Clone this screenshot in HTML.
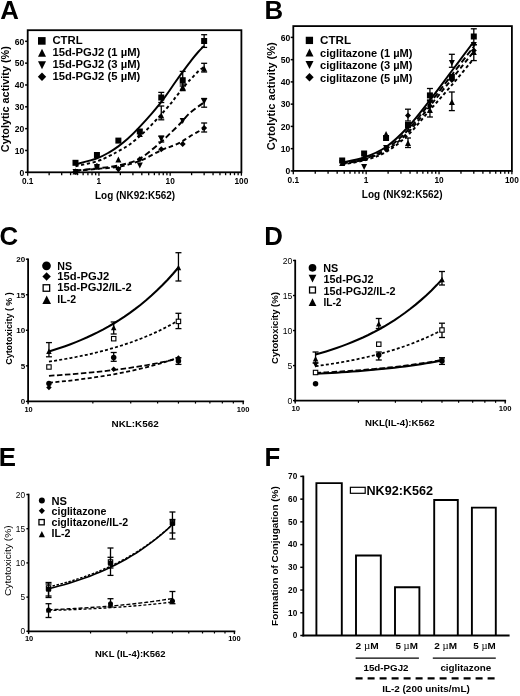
<!DOCTYPE html>
<html><head><meta charset="utf-8"><style>
html,body{margin:0;padding:0;background:#fff;}
svg{display:block;filter:grayscale(1);}
text{font-family:"Liberation Sans", sans-serif;fill:#000;}
</style></head><body>
<svg width="520" height="696" viewBox="0 0 520 696">
<rect width="520" height="696" fill="#fff"/>
<rect x="27.7" y="30.2" width="213.7" height="142.1" fill="none" stroke="#000" stroke-width="1.8"/>
<line x1="25.1" y1="172.3" x2="27.7" y2="172.3" stroke="#000" stroke-width="1.5"/>
<text transform="translate(24.3,175.5) scale(1,1.08)" x="0" y="0" font-size="8.6" font-weight="bold" text-anchor="end">0</text>
<line x1="25.1" y1="150.47" x2="27.7" y2="150.47" stroke="#000" stroke-width="1.5"/>
<text transform="translate(24.3,153.67) scale(1,1.08)" x="0" y="0" font-size="8.6" font-weight="bold" text-anchor="end">10</text>
<line x1="25.1" y1="128.64" x2="27.7" y2="128.64" stroke="#000" stroke-width="1.5"/>
<text transform="translate(24.3,131.84) scale(1,1.08)" x="0" y="0" font-size="8.6" font-weight="bold" text-anchor="end">20</text>
<line x1="25.1" y1="106.81" x2="27.7" y2="106.81" stroke="#000" stroke-width="1.5"/>
<text transform="translate(24.3,110.01) scale(1,1.08)" x="0" y="0" font-size="8.6" font-weight="bold" text-anchor="end">30</text>
<line x1="25.1" y1="84.98" x2="27.7" y2="84.98" stroke="#000" stroke-width="1.5"/>
<text transform="translate(24.3,88.18) scale(1,1.08)" x="0" y="0" font-size="8.6" font-weight="bold" text-anchor="end">40</text>
<line x1="25.1" y1="63.15" x2="27.7" y2="63.15" stroke="#000" stroke-width="1.5"/>
<text transform="translate(24.3,66.35) scale(1,1.08)" x="0" y="0" font-size="8.6" font-weight="bold" text-anchor="end">50</text>
<line x1="25.1" y1="41.32" x2="27.7" y2="41.32" stroke="#000" stroke-width="1.5"/>
<text transform="translate(24.3,44.52) scale(1,1.08)" x="0" y="0" font-size="8.6" font-weight="bold" text-anchor="end">60</text>
<line x1="27.7" y1="172.3" x2="27.7" y2="175.7" stroke="#000" stroke-width="1.3"/>
<line x1="49.14" y1="172.3" x2="49.14" y2="175.2" stroke="#000" stroke-width="1.3"/>
<line x1="61.69" y1="172.3" x2="61.69" y2="175.2" stroke="#000" stroke-width="1.3"/>
<line x1="70.59" y1="172.3" x2="70.59" y2="175.2" stroke="#000" stroke-width="1.3"/>
<line x1="77.49" y1="172.3" x2="77.49" y2="175.2" stroke="#000" stroke-width="1.3"/>
<line x1="83.13" y1="172.3" x2="83.13" y2="175.2" stroke="#000" stroke-width="1.3"/>
<line x1="87.9" y1="172.3" x2="87.9" y2="175.2" stroke="#000" stroke-width="1.3"/>
<line x1="92.03" y1="172.3" x2="92.03" y2="175.2" stroke="#000" stroke-width="1.3"/>
<line x1="95.67" y1="172.3" x2="95.67" y2="175.2" stroke="#000" stroke-width="1.3"/>
<line x1="98.93" y1="172.3" x2="98.93" y2="175.7" stroke="#000" stroke-width="1.3"/>
<line x1="120.38" y1="172.3" x2="120.38" y2="175.2" stroke="#000" stroke-width="1.3"/>
<line x1="132.92" y1="172.3" x2="132.92" y2="175.2" stroke="#000" stroke-width="1.3"/>
<line x1="141.82" y1="172.3" x2="141.82" y2="175.2" stroke="#000" stroke-width="1.3"/>
<line x1="148.72" y1="172.3" x2="148.72" y2="175.2" stroke="#000" stroke-width="1.3"/>
<line x1="154.36" y1="172.3" x2="154.36" y2="175.2" stroke="#000" stroke-width="1.3"/>
<line x1="159.13" y1="172.3" x2="159.13" y2="175.2" stroke="#000" stroke-width="1.3"/>
<line x1="163.26" y1="172.3" x2="163.26" y2="175.2" stroke="#000" stroke-width="1.3"/>
<line x1="166.91" y1="172.3" x2="166.91" y2="175.2" stroke="#000" stroke-width="1.3"/>
<line x1="170.17" y1="172.3" x2="170.17" y2="175.7" stroke="#000" stroke-width="1.3"/>
<line x1="191.61" y1="172.3" x2="191.61" y2="175.2" stroke="#000" stroke-width="1.3"/>
<line x1="204.15" y1="172.3" x2="204.15" y2="175.2" stroke="#000" stroke-width="1.3"/>
<line x1="213.05" y1="172.3" x2="213.05" y2="175.2" stroke="#000" stroke-width="1.3"/>
<line x1="219.96" y1="172.3" x2="219.96" y2="175.2" stroke="#000" stroke-width="1.3"/>
<line x1="225.6" y1="172.3" x2="225.6" y2="175.2" stroke="#000" stroke-width="1.3"/>
<line x1="230.37" y1="172.3" x2="230.37" y2="175.2" stroke="#000" stroke-width="1.3"/>
<line x1="234.5" y1="172.3" x2="234.5" y2="175.2" stroke="#000" stroke-width="1.3"/>
<line x1="238.14" y1="172.3" x2="238.14" y2="175.2" stroke="#000" stroke-width="1.3"/>
<line x1="241.4" y1="172.3" x2="241.4" y2="175.7" stroke="#000" stroke-width="1.3"/>
<text transform="translate(27.7,183.6) scale(1,1.12)" x="0" y="0" font-size="8.3" font-weight="bold" text-anchor="middle">0.1</text>
<text transform="translate(98.93,183.6) scale(1,1.12)" x="0" y="0" font-size="8.3" font-weight="bold" text-anchor="middle">1</text>
<text transform="translate(170.17,183.6) scale(1,1.12)" x="0" y="0" font-size="8.3" font-weight="bold" text-anchor="middle">10</text>
<text transform="translate(241.4,183.6) scale(1,1.12)" x="0" y="0" font-size="8.3" font-weight="bold" text-anchor="middle">100</text>
<path d="M75.5,164.3 C79.08,163.32 91.25,160.47 97,158.4 C102.75,156.33 106.5,153.87 110,151.9 C113.5,149.93 115.05,148.78 118,146.6 C120.95,144.42 124.28,141.88 127.7,138.8 C131.12,135.72 134.47,132.35 138.5,128.1 C142.53,123.85 147.8,118.05 151.9,113.3 C156,108.55 159.22,104.77 163.1,99.6 C166.98,94.43 171.82,87.08 175.2,82.3 C178.58,77.52 180.68,74.6 183.4,70.9 C186.12,67.2 189.03,63.25 191.5,60.1 C193.97,56.95 196.13,54.35 198.2,52 C200.27,49.65 202.95,47 203.9,46" fill="none" stroke="#000" stroke-width="1.95"/>
<path d="M75.5,166.3 C79.08,165.47 91.25,163.08 97,161.3 C102.75,159.52 106.5,157.25 110,155.6 C113.5,153.95 114.67,153.3 118,151.4 C121.33,149.5 125.58,147.45 130,144.2 C134.42,140.95 139.73,136.38 144.5,131.9 C149.27,127.42 154.27,121.98 158.6,117.3 C162.93,112.62 167.55,107.27 170.5,103.8 C173.45,100.33 173.65,99.83 176.3,96.5 C178.95,93.17 183.82,86.85 186.4,83.8 C188.98,80.75 189.77,80.33 191.8,78.2 C193.83,76.07 196.58,72.87 198.6,71 C200.62,69.13 203.02,67.67 203.9,67" fill="none" stroke="#000" stroke-width="1.95" stroke-dasharray="3.2,2.6"/>
<path d="M75.5,170.6 C79.08,170.22 89.92,169.15 97,168.3 C104.08,167.45 110.87,167.12 118,165.5 C125.13,163.88 132.48,162.65 139.8,158.6 C147.12,154.55 156.87,145.38 161.9,141.2 C166.93,137.02 166.98,136.4 170,133.5 C173.02,130.6 176.67,127.25 180,123.8 C183.33,120.35 186.02,116.35 190,112.8 C193.98,109.25 201.58,104.22 203.9,102.5" fill="none" stroke="#000" stroke-width="1.95" stroke-dasharray="6,3"/>
<path d="M75.5,170.9 C79.08,170.55 89.92,169.48 97,168.8 C104.08,168.12 110.87,168.12 118,166.8 C125.13,165.48 132.48,163.73 139.8,160.9 C147.12,158.07 156.87,152.13 161.9,149.8 C166.93,147.47 166.98,148.1 170,146.9 C173.02,145.7 176.67,144.37 180,142.6 C183.33,140.83 186.02,138.65 190,136.3 C193.98,133.95 201.58,129.8 203.9,128.5" fill="none" stroke="#000" stroke-width="1.95" stroke-dasharray="4.5,3"/>
<rect x="72.49" y="159.8" width="6" height="6" fill="#000"/>
<rect x="93.94" y="152" width="6" height="6" fill="#000"/>
<rect x="115.38" y="137.6" width="6" height="6" fill="#000"/>
<rect x="136.82" y="128.5" width="6" height="6" fill="#000"/>
<line x1="161.27" y1="92.4" x2="161.27" y2="102.5" stroke="#000" stroke-width="1.3"/>
<line x1="158.27" y1="92.4" x2="164.27" y2="92.4" stroke="#000" stroke-width="1.3"/>
<line x1="158.27" y1="102.5" x2="164.27" y2="102.5" stroke="#000" stroke-width="1.3"/>
<rect x="158.27" y="94.5" width="6" height="6" fill="#000"/>
<line x1="182.71" y1="71.4" x2="182.71" y2="86" stroke="#000" stroke-width="1.3"/>
<line x1="179.71" y1="71.4" x2="185.71" y2="71.4" stroke="#000" stroke-width="1.3"/>
<line x1="179.71" y1="86" x2="185.71" y2="86" stroke="#000" stroke-width="1.3"/>
<rect x="179.71" y="77.2" width="6" height="6" fill="#000"/>
<line x1="204.15" y1="34.7" x2="204.15" y2="47.4" stroke="#000" stroke-width="1.3"/>
<line x1="201.15" y1="34.7" x2="207.15" y2="34.7" stroke="#000" stroke-width="1.3"/>
<line x1="201.15" y1="47.4" x2="207.15" y2="47.4" stroke="#000" stroke-width="1.3"/>
<rect x="201.15" y="38" width="6" height="6" fill="#000"/>
<polygon points="75.49,168.5 78.49,174.5 72.49,174.5" fill="#000"/>
<polygon points="96.94,163.5 99.94,169.5 93.94,169.5" fill="#000"/>
<polygon points="118.38,156.6 121.38,162.6 115.38,162.6" fill="#000"/>
<polygon points="139.82,131 142.82,137 136.82,137" fill="#000"/>
<line x1="161.27" y1="106" x2="161.27" y2="119.8" stroke="#000" stroke-width="1.3"/>
<line x1="158.27" y1="106" x2="164.27" y2="106" stroke="#000" stroke-width="1.3"/>
<line x1="158.27" y1="119.8" x2="164.27" y2="119.8" stroke="#000" stroke-width="1.3"/>
<polygon points="161.27,112.5 164.27,118.5 158.27,118.5" fill="#000"/>
<line x1="182.71" y1="84" x2="182.71" y2="90.6" stroke="#000" stroke-width="1.3"/>
<line x1="179.71" y1="84" x2="185.71" y2="84" stroke="#000" stroke-width="1.3"/>
<line x1="179.71" y1="90.6" x2="185.71" y2="90.6" stroke="#000" stroke-width="1.3"/>
<polygon points="182.71,83.9 185.71,89.9 179.71,89.9" fill="#000"/>
<line x1="204.15" y1="63.3" x2="204.15" y2="72" stroke="#000" stroke-width="1.3"/>
<line x1="201.15" y1="63.3" x2="207.15" y2="63.3" stroke="#000" stroke-width="1.3"/>
<line x1="201.15" y1="72" x2="207.15" y2="72" stroke="#000" stroke-width="1.3"/>
<polygon points="204.15,65.5 207.15,71.5 201.15,71.5" fill="#000"/>
<polygon points="72.49,169 78.49,169 75.49,175" fill="#000"/>
<polygon points="93.94,164 99.94,164 96.94,170" fill="#000"/>
<polygon points="115.38,167 121.38,167 118.38,173" fill="#000"/>
<polygon points="136.82,162.4 142.82,162.4 139.82,168.4" fill="#000"/>
<line x1="161.27" y1="136" x2="161.27" y2="142" stroke="#000" stroke-width="1.3"/>
<line x1="158.27" y1="136" x2="164.27" y2="136" stroke="#000" stroke-width="1.3"/>
<line x1="158.27" y1="142" x2="164.27" y2="142" stroke="#000" stroke-width="1.3"/>
<polygon points="158.27,136 164.27,136 161.27,142" fill="#000"/>
<polygon points="179.71,118 185.71,118 182.71,124" fill="#000"/>
<line x1="204.15" y1="98.5" x2="204.15" y2="107.2" stroke="#000" stroke-width="1.3"/>
<line x1="201.15" y1="98.5" x2="207.15" y2="98.5" stroke="#000" stroke-width="1.3"/>
<line x1="201.15" y1="107.2" x2="207.15" y2="107.2" stroke="#000" stroke-width="1.3"/>
<polygon points="201.15,98.5 207.15,98.5 204.15,104.5" fill="#000"/>
<polygon points="75.49,168.5 78.49,171.5 75.49,174.5 72.49,171.5" fill="#000"/>
<polygon points="96.94,163 99.94,166 96.94,169 93.94,166" fill="#000"/>
<polygon points="118.38,166 121.38,169 118.38,172 115.38,169" fill="#000"/>
<polygon points="139.82,156.3 142.82,159.3 139.82,162.3 136.82,159.3" fill="#000"/>
<polygon points="161.27,146.2 164.27,149.2 161.27,152.2 158.27,149.2" fill="#000"/>
<polygon points="182.71,141 185.71,144 182.71,147 179.71,144" fill="#000"/>
<line x1="204.15" y1="123" x2="204.15" y2="132" stroke="#000" stroke-width="1.3"/>
<line x1="201.15" y1="123" x2="207.15" y2="123" stroke="#000" stroke-width="1.3"/>
<line x1="201.15" y1="132" x2="207.15" y2="132" stroke="#000" stroke-width="1.3"/>
<polygon points="204.15,125 207.15,128 204.15,131 201.15,128" fill="#000"/>
<rect x="38" y="37.1" width="7.6" height="7.6" fill="#000"/>
<polygon points="42,48.7 46,56.7 38,56.7" fill="#000"/>
<polygon points="38,61.2 46,61.2 42,69.2" fill="#000"/>
<polygon points="42,72.55 46.2,76.75 42,80.95 37.8,76.75" fill="#000"/>
<text x="52.4" y="44.3" font-size="11.3" font-weight="bold" text-anchor="start" textLength="30.2" lengthAdjust="spacingAndGlyphs">CTRL</text>
<text x="52.4" y="56.3" font-size="11.3" font-weight="bold" text-anchor="start" textLength="87.9" lengthAdjust="spacingAndGlyphs">15d-PGJ2 (1 µM)</text>
<text x="52.4" y="68.3" font-size="11.3" font-weight="bold" text-anchor="start" textLength="87.9" lengthAdjust="spacingAndGlyphs">15d-PGJ2 (3 µM)</text>
<text x="52.4" y="80.3" font-size="11.3" font-weight="bold" text-anchor="start" textLength="87.9" lengthAdjust="spacingAndGlyphs">15d-PGJ2 (5 µM)</text>
<text x="95" y="199" font-size="10" font-weight="bold" text-anchor="start" textLength="80.2" lengthAdjust="spacingAndGlyphs">Log (NK92:K562)</text>
<text transform="translate(8.9,152.2) rotate(-90)" x="0" y="0" font-size="11.3" font-weight="bold" text-anchor="start" textLength="106" lengthAdjust="spacingAndGlyphs">Cytolytic activity (%)</text>
<text x="0.3" y="19.3" font-size="25.8" font-weight="bold" text-anchor="start">A</text>
<rect x="293.3" y="26.1" width="218.6" height="144.8" fill="none" stroke="#000" stroke-width="1.8"/>
<line x1="290.7" y1="170.9" x2="293.3" y2="170.9" stroke="#000" stroke-width="1.5"/>
<text transform="translate(290.2,174.1) scale(1,1.08)" x="0" y="0" font-size="8.6" font-weight="bold" text-anchor="end">0</text>
<line x1="290.7" y1="148.65" x2="293.3" y2="148.65" stroke="#000" stroke-width="1.5"/>
<text transform="translate(290.2,151.85) scale(1,1.08)" x="0" y="0" font-size="8.6" font-weight="bold" text-anchor="end">10</text>
<line x1="290.7" y1="126.4" x2="293.3" y2="126.4" stroke="#000" stroke-width="1.5"/>
<text transform="translate(290.2,129.6) scale(1,1.08)" x="0" y="0" font-size="8.6" font-weight="bold" text-anchor="end">20</text>
<line x1="290.7" y1="104.15" x2="293.3" y2="104.15" stroke="#000" stroke-width="1.5"/>
<text transform="translate(290.2,107.35) scale(1,1.08)" x="0" y="0" font-size="8.6" font-weight="bold" text-anchor="end">30</text>
<line x1="290.7" y1="81.9" x2="293.3" y2="81.9" stroke="#000" stroke-width="1.5"/>
<text transform="translate(290.2,85.1) scale(1,1.08)" x="0" y="0" font-size="8.6" font-weight="bold" text-anchor="end">40</text>
<line x1="290.7" y1="59.65" x2="293.3" y2="59.65" stroke="#000" stroke-width="1.5"/>
<text transform="translate(290.2,62.85) scale(1,1.08)" x="0" y="0" font-size="8.6" font-weight="bold" text-anchor="end">50</text>
<line x1="290.7" y1="37.4" x2="293.3" y2="37.4" stroke="#000" stroke-width="1.5"/>
<text transform="translate(290.2,40.6) scale(1,1.08)" x="0" y="0" font-size="8.6" font-weight="bold" text-anchor="end">60</text>
<line x1="293.3" y1="170.9" x2="293.3" y2="174.3" stroke="#000" stroke-width="1.3"/>
<line x1="315.24" y1="170.9" x2="315.24" y2="173.8" stroke="#000" stroke-width="1.3"/>
<line x1="328.07" y1="170.9" x2="328.07" y2="173.8" stroke="#000" stroke-width="1.3"/>
<line x1="337.17" y1="170.9" x2="337.17" y2="173.8" stroke="#000" stroke-width="1.3"/>
<line x1="344.23" y1="170.9" x2="344.23" y2="173.8" stroke="#000" stroke-width="1.3"/>
<line x1="350" y1="170.9" x2="350" y2="173.8" stroke="#000" stroke-width="1.3"/>
<line x1="354.88" y1="170.9" x2="354.88" y2="173.8" stroke="#000" stroke-width="1.3"/>
<line x1="359.11" y1="170.9" x2="359.11" y2="173.8" stroke="#000" stroke-width="1.3"/>
<line x1="362.83" y1="170.9" x2="362.83" y2="173.8" stroke="#000" stroke-width="1.3"/>
<line x1="366.17" y1="170.9" x2="366.17" y2="174.3" stroke="#000" stroke-width="1.3"/>
<line x1="388.1" y1="170.9" x2="388.1" y2="173.8" stroke="#000" stroke-width="1.3"/>
<line x1="400.93" y1="170.9" x2="400.93" y2="173.8" stroke="#000" stroke-width="1.3"/>
<line x1="410.04" y1="170.9" x2="410.04" y2="173.8" stroke="#000" stroke-width="1.3"/>
<line x1="417.1" y1="170.9" x2="417.1" y2="173.8" stroke="#000" stroke-width="1.3"/>
<line x1="422.87" y1="170.9" x2="422.87" y2="173.8" stroke="#000" stroke-width="1.3"/>
<line x1="427.75" y1="170.9" x2="427.75" y2="173.8" stroke="#000" stroke-width="1.3"/>
<line x1="431.97" y1="170.9" x2="431.97" y2="173.8" stroke="#000" stroke-width="1.3"/>
<line x1="435.7" y1="170.9" x2="435.7" y2="173.8" stroke="#000" stroke-width="1.3"/>
<line x1="439.03" y1="170.9" x2="439.03" y2="174.3" stroke="#000" stroke-width="1.3"/>
<line x1="460.97" y1="170.9" x2="460.97" y2="173.8" stroke="#000" stroke-width="1.3"/>
<line x1="473.8" y1="170.9" x2="473.8" y2="173.8" stroke="#000" stroke-width="1.3"/>
<line x1="482.9" y1="170.9" x2="482.9" y2="173.8" stroke="#000" stroke-width="1.3"/>
<line x1="489.96" y1="170.9" x2="489.96" y2="173.8" stroke="#000" stroke-width="1.3"/>
<line x1="495.73" y1="170.9" x2="495.73" y2="173.8" stroke="#000" stroke-width="1.3"/>
<line x1="500.61" y1="170.9" x2="500.61" y2="173.8" stroke="#000" stroke-width="1.3"/>
<line x1="504.84" y1="170.9" x2="504.84" y2="173.8" stroke="#000" stroke-width="1.3"/>
<line x1="508.57" y1="170.9" x2="508.57" y2="173.8" stroke="#000" stroke-width="1.3"/>
<line x1="511.9" y1="170.9" x2="511.9" y2="174.3" stroke="#000" stroke-width="1.3"/>
<text transform="translate(293.3,182.9) scale(1,1.12)" x="0" y="0" font-size="8.3" font-weight="bold" text-anchor="middle">0.1</text>
<text transform="translate(366.17,182.9) scale(1,1.12)" x="0" y="0" font-size="8.3" font-weight="bold" text-anchor="middle">1</text>
<text transform="translate(439.03,182.9) scale(1,1.12)" x="0" y="0" font-size="8.3" font-weight="bold" text-anchor="middle">10</text>
<text transform="translate(511.9,182.9) scale(1,1.12)" x="0" y="0" font-size="8.3" font-weight="bold" text-anchor="middle">100</text>
<path d="M342,162.5 C345.67,161.67 356.67,160.08 364,157.5 C371.33,154.92 378.67,152.08 386,147 C393.33,141.92 400.67,134.83 408,127 C415.33,119.17 422.83,109.17 430,100 C437.17,90.83 443.75,81.67 451,72 C458.25,62.33 469.75,47 473.5,42" fill="none" stroke="#000" stroke-width="1.95"/>
<path d="M342,164.5 C345.67,163.83 356.67,162.58 364,160.5 C371.33,158.42 378.67,156.25 386,152 C393.33,147.75 400.67,142 408,135 C415.33,128 422.83,118.17 430,110 C437.17,101.83 443.75,94.5 451,86 C458.25,77.5 469.75,63.5 473.5,59" fill="none" stroke="#000" stroke-width="1.95" stroke-dasharray="3.2,2.6"/>
<path d="M342,163.5 C345.67,162.75 356.67,161.42 364,159 C371.33,156.58 378.67,153.83 386,149 C393.33,144.17 400.67,137.67 408,130 C415.33,122.33 422.83,112 430,103 C437.17,94 443.75,85.33 451,76 C458.25,66.67 469.75,51.83 473.5,47" fill="none" stroke="#000" stroke-width="1.95" stroke-dasharray="6,3"/>
<path d="M342,164 C345.67,163.25 356.67,161.75 364,159.5 C371.33,157.25 378.67,155 386,150.5 C393.33,146 400.67,139.92 408,132.5 C415.33,125.08 422.83,114.75 430,106 C437.17,97.25 443.75,89 451,80 C458.25,71 469.75,56.67 473.5,52" fill="none" stroke="#000" stroke-width="1.95" stroke-dasharray="4.5,3"/>
<rect x="339.19" y="157.5" width="6" height="6" fill="#000"/>
<rect x="361.12" y="150.5" width="6" height="6" fill="#000"/>
<rect x="383.06" y="135" width="6" height="6" fill="#000"/>
<rect x="404.99" y="122" width="6" height="6" fill="#000"/>
<line x1="429.93" y1="88.5" x2="429.93" y2="101" stroke="#000" stroke-width="1.3"/>
<line x1="426.93" y1="88.5" x2="432.93" y2="88.5" stroke="#000" stroke-width="1.3"/>
<line x1="426.93" y1="101" x2="432.93" y2="101" stroke="#000" stroke-width="1.3"/>
<rect x="426.93" y="92.4" width="6" height="6" fill="#000"/>
<rect x="448.86" y="74" width="6" height="6" fill="#000"/>
<line x1="473.8" y1="28.8" x2="473.8" y2="44.7" stroke="#000" stroke-width="1.3"/>
<line x1="470.8" y1="28.8" x2="476.8" y2="28.8" stroke="#000" stroke-width="1.3"/>
<line x1="470.8" y1="44.7" x2="476.8" y2="44.7" stroke="#000" stroke-width="1.3"/>
<rect x="470.8" y="33.5" width="6" height="6" fill="#000"/>
<polygon points="342.19,160 345.19,166 339.19,166" fill="#000"/>
<polygon points="364.12,155 367.12,161 361.12,161" fill="#000"/>
<polygon points="386.06,131 389.06,137 383.06,137" fill="#000"/>
<line x1="407.99" y1="138" x2="407.99" y2="147.5" stroke="#000" stroke-width="1.3"/>
<line x1="404.99" y1="138" x2="410.99" y2="138" stroke="#000" stroke-width="1.3"/>
<line x1="404.99" y1="147.5" x2="410.99" y2="147.5" stroke="#000" stroke-width="1.3"/>
<polygon points="407.99,140 410.99,146 404.99,146" fill="#000"/>
<polygon points="429.93,107 432.93,113 426.93,113" fill="#000"/>
<line x1="451.86" y1="92" x2="451.86" y2="110.6" stroke="#000" stroke-width="1.3"/>
<line x1="448.86" y1="92" x2="454.86" y2="92" stroke="#000" stroke-width="1.3"/>
<line x1="448.86" y1="110.6" x2="454.86" y2="110.6" stroke="#000" stroke-width="1.3"/>
<polygon points="451.86,99 454.86,105 448.86,105" fill="#000"/>
<line x1="473.8" y1="44.7" x2="473.8" y2="60.6" stroke="#000" stroke-width="1.3"/>
<line x1="470.8" y1="44.7" x2="476.8" y2="44.7" stroke="#000" stroke-width="1.3"/>
<line x1="470.8" y1="60.6" x2="476.8" y2="60.6" stroke="#000" stroke-width="1.3"/>
<polygon points="473.8,49 476.8,55 470.8,55" fill="#000"/>
<polygon points="339.19,160 345.19,160 342.19,166" fill="#000"/>
<polygon points="361.12,164 367.12,164 364.12,170" fill="#000"/>
<polygon points="383.06,145 389.06,145 386.06,151" fill="#000"/>
<polygon points="404.99,124 410.99,124 407.99,130" fill="#000"/>
<polygon points="426.93,100 432.93,100 429.93,106" fill="#000"/>
<line x1="451.86" y1="54.3" x2="451.86" y2="67.3" stroke="#000" stroke-width="1.3"/>
<line x1="448.86" y1="54.3" x2="454.86" y2="54.3" stroke="#000" stroke-width="1.3"/>
<line x1="448.86" y1="67.3" x2="454.86" y2="67.3" stroke="#000" stroke-width="1.3"/>
<polygon points="448.86,60 454.86,60 451.86,66" fill="#000"/>
<polygon points="470.8,42 476.8,42 473.8,48" fill="#000"/>
<polygon points="342.19,159 345.19,162 342.19,165 339.19,162" fill="#000"/>
<polygon points="364.12,155 367.12,158 364.12,161 361.12,158" fill="#000"/>
<polygon points="386.06,146 389.06,149 386.06,152 383.06,149" fill="#000"/>
<line x1="407.99" y1="109.2" x2="407.99" y2="121" stroke="#000" stroke-width="1.3"/>
<line x1="404.99" y1="109.2" x2="410.99" y2="109.2" stroke="#000" stroke-width="1.3"/>
<line x1="404.99" y1="121" x2="410.99" y2="121" stroke="#000" stroke-width="1.3"/>
<polygon points="407.99,112.4 410.99,115.4 407.99,118.4 404.99,115.4" fill="#000"/>
<line x1="429.93" y1="100" x2="429.93" y2="117" stroke="#000" stroke-width="1.3"/>
<line x1="426.93" y1="100" x2="432.93" y2="100" stroke="#000" stroke-width="1.3"/>
<line x1="426.93" y1="117" x2="432.93" y2="117" stroke="#000" stroke-width="1.3"/>
<polygon points="429.93,103 432.93,106 429.93,109 426.93,106" fill="#000"/>
<polygon points="451.86,77 454.86,80 451.86,83 448.86,80" fill="#000"/>
<polygon points="473.8,47.5 476.8,50.5 473.8,53.5 470.8,50.5" fill="#000"/>
<rect x="305.75" y="36.75" width="7.3" height="7.3" fill="#000"/>
<polygon points="309.5,48.4 313.5,56.4 305.5,56.4" fill="#000"/>
<polygon points="305.5,60.9 313.5,60.9 309.5,68.9" fill="#000"/>
<polygon points="309.5,73 313.7,77.2 309.5,81.4 305.3,77.2" fill="#000"/>
<text x="320" y="44.3" font-size="11.3" font-weight="bold" text-anchor="start" textLength="31" lengthAdjust="spacingAndGlyphs">CTRL</text>
<text x="320" y="56.6" font-size="11.3" font-weight="bold" text-anchor="start" textLength="92.5" lengthAdjust="spacingAndGlyphs">ciglitazone (1 µM)</text>
<text x="320" y="69" font-size="11.3" font-weight="bold" text-anchor="start" textLength="92.5" lengthAdjust="spacingAndGlyphs">ciglitazone (3 µM)</text>
<text x="320" y="81.5" font-size="11.3" font-weight="bold" text-anchor="start" textLength="92.5" lengthAdjust="spacingAndGlyphs">ciglitazone (5 µM)</text>
<text x="361.8" y="197.5" font-size="10" font-weight="bold" text-anchor="start" textLength="80.7" lengthAdjust="spacingAndGlyphs">Log (NK92:K562)</text>
<text transform="translate(275,150.2) rotate(-90)" x="0" y="0" font-size="11.3" font-weight="bold" text-anchor="start" textLength="108" lengthAdjust="spacingAndGlyphs">Cytolytic activity (%)</text>
<text x="264.6" y="19.2" font-size="25.8" font-weight="bold" text-anchor="start">B</text>
<line x1="28.1" y1="258.4" x2="28.1" y2="402.3" stroke="#000" stroke-width="1.8"/>
<line x1="27.2" y1="401.4" x2="244.1" y2="401.4" stroke="#000" stroke-width="1.8"/>
<line x1="25.9" y1="401.4" x2="28.1" y2="401.4" stroke="#000" stroke-width="1.4"/>
<text x="25.2" y="404.3" font-size="8" font-weight="bold" text-anchor="end">0</text>
<line x1="25.9" y1="365.85" x2="28.1" y2="365.85" stroke="#000" stroke-width="1.4"/>
<text x="25.2" y="368.75" font-size="8" font-weight="bold" text-anchor="end">5</text>
<line x1="25.9" y1="330.3" x2="28.1" y2="330.3" stroke="#000" stroke-width="1.4"/>
<text x="25.2" y="333.2" font-size="8" font-weight="bold" text-anchor="end">10</text>
<line x1="25.9" y1="294.75" x2="28.1" y2="294.75" stroke="#000" stroke-width="1.4"/>
<text x="25.2" y="297.65" font-size="8" font-weight="bold" text-anchor="end">15</text>
<line x1="25.9" y1="259.2" x2="28.1" y2="259.2" stroke="#000" stroke-width="1.4"/>
<text x="25.2" y="262.1" font-size="8" font-weight="bold" text-anchor="end">20</text>
<line x1="92.85" y1="401.4" x2="92.85" y2="403.6" stroke="#000" stroke-width="1.2"/>
<line x1="130.73" y1="401.4" x2="130.73" y2="403.6" stroke="#000" stroke-width="1.2"/>
<line x1="157.6" y1="401.4" x2="157.6" y2="403.6" stroke="#000" stroke-width="1.2"/>
<line x1="178.45" y1="401.4" x2="178.45" y2="403.6" stroke="#000" stroke-width="1.2"/>
<line x1="195.48" y1="401.4" x2="195.48" y2="403.6" stroke="#000" stroke-width="1.2"/>
<line x1="209.88" y1="401.4" x2="209.88" y2="403.6" stroke="#000" stroke-width="1.2"/>
<line x1="222.35" y1="401.4" x2="222.35" y2="403.6" stroke="#000" stroke-width="1.2"/>
<line x1="233.36" y1="401.4" x2="233.36" y2="403.6" stroke="#000" stroke-width="1.2"/>
<line x1="28.1" y1="401.4" x2="28.1" y2="404.2" stroke="#000" stroke-width="1.4"/>
<line x1="243.2" y1="401.4" x2="243.2" y2="404.2" stroke="#000" stroke-width="1.4"/>
<text x="28.6" y="411.7" font-size="7.4" font-weight="bold" text-anchor="middle">10</text>
<text x="243.2" y="411.7" font-size="7.6" font-weight="bold" text-anchor="middle">100</text>
<path d="M48.95,351.5 L54.34,349.84 L59.74,348.07 L65.13,346.2 L70.53,344.22 L75.93,342.12 L81.32,339.9 L86.72,337.55 L92.11,335.05 L97.51,332.41 L102.9,329.61 L108.3,326.64 L113.7,323.5 L119.09,320.17 L124.49,316.64 L129.88,312.9 L135.28,308.94 L140.68,304.75 L146.07,300.3 L151.47,295.59 L156.86,290.61 L162.26,285.32 L167.66,279.72 L173.05,273.79 L178.45,267.5" fill="none" stroke="#000" stroke-width="2.1"/>
<path d="M48.95,361.6 L54.34,360.79 L59.74,359.92 L65.13,359.01 L70.53,358.04 L75.93,357.01 L81.32,355.93 L86.72,354.77 L92.11,353.55 L97.51,352.26 L102.9,350.89 L108.3,349.44 L113.7,347.9 L119.09,346.27 L124.49,344.54 L129.88,342.72 L135.28,340.78 L140.68,338.73 L146.07,336.55 L151.47,334.25 L156.86,331.81 L162.26,329.22 L167.66,326.48 L173.05,323.58 L178.45,320.5" fill="none" stroke="#000" stroke-width="1.75" stroke-dasharray="3,2.2"/>
<path d="M48.95,375.8 L54.34,375.46 L59.74,375.09 L65.13,374.71 L70.53,374.3 L75.93,373.87 L81.32,373.41 L86.72,372.93 L92.11,372.41 L97.51,371.87 L102.9,371.29 L108.3,370.68 L113.7,370.03 L119.09,369.35 L124.49,368.62 L129.88,367.85 L135.28,367.04 L140.68,366.17 L146.07,365.26 L151.47,364.29 L156.86,363.26 L162.26,362.17 L167.66,361.02 L173.05,359.79 L178.45,358.5" fill="none" stroke="#000" stroke-width="1.75" stroke-dasharray="5.5,2.5"/>
<path d="M48.95,382.7 L54.34,382.2 L59.74,381.67 L65.13,381.11 L70.53,380.52 L75.93,379.89 L81.32,379.22 L86.72,378.51 L92.11,377.77 L97.51,376.97 L102.9,376.13 L108.3,375.24 L113.7,374.3 L119.09,373.3 L124.49,372.24 L129.88,371.12 L135.28,369.93 L140.68,368.67 L146.07,367.34 L151.47,365.93 L156.86,364.43 L162.26,362.85 L167.66,361.17 L173.05,359.39 L178.45,357.5" fill="none" stroke="#000" stroke-width="1.75" stroke-dasharray="4,2.5"/>
<line x1="48.95" y1="342.6" x2="48.95" y2="356.8" stroke="#000" stroke-width="1.3"/>
<line x1="45.95" y1="342.6" x2="51.95" y2="342.6" stroke="#000" stroke-width="1.3"/>
<line x1="45.95" y1="356.8" x2="51.95" y2="356.8" stroke="#000" stroke-width="1.3"/>
<polygon points="48.95,348.55 51.7,354.05 46.2,354.05" fill="#000"/>
<line x1="113.7" y1="322" x2="113.7" y2="334" stroke="#000" stroke-width="1.3"/>
<line x1="110.7" y1="322" x2="116.7" y2="322" stroke="#000" stroke-width="1.3"/>
<line x1="110.7" y1="334" x2="116.7" y2="334" stroke="#000" stroke-width="1.3"/>
<polygon points="113.7,324.75 116.45,330.25 110.95,330.25" fill="#000"/>
<line x1="178.45" y1="252.7" x2="178.45" y2="281" stroke="#000" stroke-width="1.3"/>
<line x1="175.45" y1="252.7" x2="181.45" y2="252.7" stroke="#000" stroke-width="1.3"/>
<line x1="175.45" y1="281" x2="181.45" y2="281" stroke="#000" stroke-width="1.3"/>
<polygon points="178.45,264.75 181.2,270.25 175.7,270.25" fill="#000"/>
<rect x="46.75" y="364.8" width="4.4" height="4.4" fill="#fff" stroke="#000" stroke-width="1.1"/>
<rect x="111.5" y="336.5" width="4.4" height="4.4" fill="#fff" stroke="#000" stroke-width="1.1"/>
<line x1="178.45" y1="313.3" x2="178.45" y2="328.6" stroke="#000" stroke-width="1.3"/>
<line x1="175.45" y1="313.3" x2="181.45" y2="313.3" stroke="#000" stroke-width="1.3"/>
<line x1="175.45" y1="328.6" x2="181.45" y2="328.6" stroke="#000" stroke-width="1.3"/>
<rect x="176.25" y="319.2" width="4.4" height="4.4" fill="#fff" stroke="#000" stroke-width="1.1"/>
<circle cx="48.95" cy="383.5" r="2.75" fill="#000"/>
<line x1="113.7" y1="352.5" x2="113.7" y2="361.3" stroke="#000" stroke-width="1.3"/>
<line x1="110.7" y1="352.5" x2="116.7" y2="352.5" stroke="#000" stroke-width="1.3"/>
<line x1="110.7" y1="361.3" x2="116.7" y2="361.3" stroke="#000" stroke-width="1.3"/>
<circle cx="113.7" cy="357.5" r="2.75" fill="#000"/>
<line x1="178.45" y1="357.7" x2="178.45" y2="364.4" stroke="#000" stroke-width="1.3"/>
<line x1="175.45" y1="357.7" x2="181.45" y2="357.7" stroke="#000" stroke-width="1.3"/>
<line x1="175.45" y1="364.4" x2="181.45" y2="364.4" stroke="#000" stroke-width="1.3"/>
<circle cx="178.45" cy="361" r="2.75" fill="#000"/>
<polygon points="48.95,384.75 51.7,387.5 48.95,390.25 46.2,387.5" fill="#000"/>
<polygon points="113.7,366.55 116.45,369.3 113.7,372.05 110.95,369.3" fill="#000"/>
<polygon points="178.45,355.25 181.2,358 178.45,360.75 175.7,358" fill="#000"/>
<circle cx="46.5" cy="265.8" r="4.35" fill="#000"/>
<polygon points="46.6,272.3 50.8,276.5 46.6,280.7 42.4,276.5" fill="#000"/>
<rect x="43.15" y="284.75" width="6.5" height="6.5" fill="#fff" stroke="#000" stroke-width="1.3"/>
<polygon points="46.7,295.5 51,304.1 42.4,304.1" fill="#000"/>
<text x="57.3" y="269.6" font-size="11.2" font-weight="bold" text-anchor="start" textLength="14.8" lengthAdjust="spacingAndGlyphs">NS</text>
<text x="57.3" y="280" font-size="11.2" font-weight="bold" text-anchor="start" textLength="51.9" lengthAdjust="spacingAndGlyphs">15d-PGJ2</text>
<text x="57.3" y="291.4" font-size="11.2" font-weight="bold" text-anchor="start" textLength="74.4" lengthAdjust="spacingAndGlyphs">15d-PGJ2/IL-2</text>
<text x="57.3" y="303" font-size="11.2" font-weight="bold" text-anchor="start" textLength="18.7" lengthAdjust="spacingAndGlyphs">IL-2</text>
<text x="111.5" y="426.5" font-size="9.8" font-weight="bold" text-anchor="start" textLength="47.2" lengthAdjust="spacingAndGlyphs">NKL:K562</text>
<text transform="translate(12.2,364.8) rotate(-90)" x="0" y="0" font-size="9.2" font-weight="bold" text-anchor="start" textLength="72.6" lengthAdjust="spacingAndGlyphs">Cytotoxicity ( % )</text>
<text x="-0.6" y="245" font-size="25.8" font-weight="bold" text-anchor="start">C</text>
<line x1="295.2" y1="259.7" x2="295.2" y2="401.5" stroke="#000" stroke-width="1.8"/>
<line x1="294.3" y1="400.6" x2="506.1" y2="400.6" stroke="#000" stroke-width="1.8"/>
<line x1="293" y1="400.6" x2="295.2" y2="400.6" stroke="#000" stroke-width="1.4"/>
<text x="292.3" y="403.7" font-size="8.6" font-weight="normal" text-anchor="end">0</text>
<line x1="293" y1="365.58" x2="295.2" y2="365.58" stroke="#000" stroke-width="1.4"/>
<text x="292.3" y="368.68" font-size="8.6" font-weight="normal" text-anchor="end">5</text>
<line x1="293" y1="330.55" x2="295.2" y2="330.55" stroke="#000" stroke-width="1.4"/>
<text x="292.3" y="333.65" font-size="8.6" font-weight="normal" text-anchor="end">10</text>
<line x1="293" y1="295.52" x2="295.2" y2="295.52" stroke="#000" stroke-width="1.4"/>
<text x="292.3" y="298.62" font-size="8.6" font-weight="normal" text-anchor="end">15</text>
<line x1="293" y1="260.5" x2="295.2" y2="260.5" stroke="#000" stroke-width="1.4"/>
<text x="292.3" y="263.6" font-size="8.6" font-weight="normal" text-anchor="end">20</text>
<line x1="358.42" y1="400.6" x2="358.42" y2="402.8" stroke="#000" stroke-width="1.2"/>
<line x1="395.4" y1="400.6" x2="395.4" y2="402.8" stroke="#000" stroke-width="1.2"/>
<line x1="421.63" y1="400.6" x2="421.63" y2="402.8" stroke="#000" stroke-width="1.2"/>
<line x1="441.98" y1="400.6" x2="441.98" y2="402.8" stroke="#000" stroke-width="1.2"/>
<line x1="458.61" y1="400.6" x2="458.61" y2="402.8" stroke="#000" stroke-width="1.2"/>
<line x1="472.67" y1="400.6" x2="472.67" y2="402.8" stroke="#000" stroke-width="1.2"/>
<line x1="484.85" y1="400.6" x2="484.85" y2="402.8" stroke="#000" stroke-width="1.2"/>
<line x1="495.59" y1="400.6" x2="495.59" y2="402.8" stroke="#000" stroke-width="1.2"/>
<line x1="295.2" y1="400.6" x2="295.2" y2="403.4" stroke="#000" stroke-width="1.4"/>
<line x1="505.2" y1="400.6" x2="505.2" y2="403.4" stroke="#000" stroke-width="1.4"/>
<text x="295.7" y="411.2" font-size="7.7" font-weight="bold" text-anchor="middle">10</text>
<text x="505.2" y="411.2" font-size="7.7" font-weight="bold" text-anchor="middle">100</text>
<path d="M315.55,354.5 L320.82,353.01 L326.09,351.44 L331.36,349.77 L336.62,348 L341.89,346.13 L347.16,344.14 L352.43,342.04 L357.7,339.81 L362.96,337.46 L368.23,334.96 L373.5,332.31 L378.77,329.5 L384.04,326.53 L389.3,323.38 L394.57,320.04 L399.84,316.5 L405.11,312.76 L410.38,308.79 L415.64,304.58 L420.91,300.13 L426.18,295.41 L431.45,290.41 L436.72,285.11 L441.98,279.5" fill="none" stroke="#000" stroke-width="2.1"/>
<path d="M315.55,366.2 L320.82,365.48 L326.09,364.72 L331.36,363.92 L336.62,363.06 L341.89,362.16 L347.16,361.2 L352.43,360.19 L357.7,359.11 L362.96,357.97 L368.23,356.77 L373.5,355.49 L378.77,354.13 L384.04,352.7 L389.3,351.18 L394.57,349.57 L399.84,347.86 L405.11,346.05 L410.38,344.14 L415.64,342.11 L420.91,339.96 L426.18,337.68 L431.45,335.27 L436.72,332.71 L441.98,330" fill="none" stroke="#000" stroke-width="1.75" stroke-dasharray="3,2.2"/>
<path d="M315.55,373.8 L320.82,373.54 L326.09,373.26 L331.36,372.96 L336.62,372.65 L341.89,372.32 L347.16,371.96 L352.43,371.59 L357.7,371.2 L362.96,370.78 L368.23,370.33 L373.5,369.86 L378.77,369.37 L384.04,368.84 L389.3,368.28 L394.57,367.69 L399.84,367.06 L405.11,366.4 L410.38,365.69 L415.64,364.95 L420.91,364.16 L426.18,363.32 L431.45,362.43 L436.72,361.5 L441.98,360.5" fill="none" stroke="#000" stroke-width="2"/>
<path d="M315.55,373 L320.82,372.74 L326.09,372.47 L331.36,372.18 L336.62,371.87 L341.89,371.55 L347.16,371.21 L352.43,370.84 L357.7,370.45 L362.96,370.05 L368.23,369.61 L373.5,369.15 L378.77,368.67 L384.04,368.15 L389.3,367.61 L394.57,367.03 L399.84,366.41 L405.11,365.76 L410.38,365.08 L415.64,364.35 L420.91,363.58 L426.18,362.76 L431.45,361.89 L436.72,360.97 L441.98,360" fill="none" stroke="#000" stroke-width="2" stroke-dasharray="5.5,2.5"/>
<line x1="315.55" y1="352" x2="315.55" y2="363" stroke="#000" stroke-width="1.3"/>
<line x1="312.55" y1="352" x2="318.55" y2="352" stroke="#000" stroke-width="1.3"/>
<line x1="312.55" y1="363" x2="318.55" y2="363" stroke="#000" stroke-width="1.3"/>
<polygon points="315.55,355.95 318.3,361.45 312.8,361.45" fill="#000"/>
<line x1="378.77" y1="318.5" x2="378.77" y2="328.5" stroke="#000" stroke-width="1.3"/>
<line x1="375.77" y1="318.5" x2="381.77" y2="318.5" stroke="#000" stroke-width="1.3"/>
<line x1="375.77" y1="328.5" x2="381.77" y2="328.5" stroke="#000" stroke-width="1.3"/>
<polygon points="378.77,320.95 381.52,326.45 376.02,326.45" fill="#000"/>
<line x1="441.98" y1="271.5" x2="441.98" y2="285" stroke="#000" stroke-width="1.3"/>
<line x1="438.98" y1="271.5" x2="444.98" y2="271.5" stroke="#000" stroke-width="1.3"/>
<line x1="438.98" y1="285" x2="444.98" y2="285" stroke="#000" stroke-width="1.3"/>
<polygon points="441.98,276.85 444.73,282.35 439.23,282.35" fill="#000"/>
<rect x="313.35" y="370.3" width="4.4" height="4.4" fill="#fff" stroke="#000" stroke-width="1.1"/>
<rect x="376.57" y="342" width="4.4" height="4.4" fill="#fff" stroke="#000" stroke-width="1.1"/>
<line x1="441.98" y1="323.2" x2="441.98" y2="337.5" stroke="#000" stroke-width="1.3"/>
<line x1="438.98" y1="323.2" x2="444.98" y2="323.2" stroke="#000" stroke-width="1.3"/>
<line x1="438.98" y1="337.5" x2="444.98" y2="337.5" stroke="#000" stroke-width="1.3"/>
<rect x="439.78" y="327.8" width="4.4" height="4.4" fill="#fff" stroke="#000" stroke-width="1.1"/>
<polygon points="312.8,362.25 318.3,362.25 315.55,367.75" fill="#000"/>
<line x1="378.77" y1="352" x2="378.77" y2="360" stroke="#000" stroke-width="1.3"/>
<line x1="375.77" y1="352" x2="381.77" y2="352" stroke="#000" stroke-width="1.3"/>
<line x1="375.77" y1="360" x2="381.77" y2="360" stroke="#000" stroke-width="1.3"/>
<polygon points="376.02,353.65 381.52,353.65 378.77,359.15" fill="#000"/>
<polygon points="439.23,358.25 444.73,358.25 441.98,363.75" fill="#000"/>
<circle cx="315.55" cy="383.7" r="2.75" fill="#000"/>
<circle cx="378.77" cy="355" r="2.75" fill="#000"/>
<line x1="441.98" y1="357.7" x2="441.98" y2="364.4" stroke="#000" stroke-width="1.3"/>
<line x1="438.98" y1="357.7" x2="444.98" y2="357.7" stroke="#000" stroke-width="1.3"/>
<line x1="438.98" y1="364.4" x2="444.98" y2="364.4" stroke="#000" stroke-width="1.3"/>
<circle cx="441.98" cy="361" r="2.75" fill="#000"/>
<circle cx="312.5" cy="267.8" r="3.85" fill="#000"/>
<polygon points="308.6,274.7 316.4,274.7 312.5,282.5" fill="#000"/>
<rect x="309.55" y="287.05" width="5.9" height="5.9" fill="#fff" stroke="#000" stroke-width="1.3"/>
<polygon points="312.5,298.3 316.4,306.1 308.6,306.1" fill="#000"/>
<text x="323.3" y="271.5" font-size="10.8" font-weight="bold" text-anchor="start" textLength="15" lengthAdjust="spacingAndGlyphs">NS</text>
<text x="323.5" y="283.3" font-size="10.8" font-weight="bold" text-anchor="start" textLength="50" lengthAdjust="spacingAndGlyphs">15d-PGJ2</text>
<text x="323.5" y="294.5" font-size="10.8" font-weight="bold" text-anchor="start" textLength="72.1" lengthAdjust="spacingAndGlyphs">15d-PGJ2/IL-2</text>
<text x="323.5" y="305.7" font-size="10.8" font-weight="bold" text-anchor="start" textLength="18" lengthAdjust="spacingAndGlyphs">IL-2</text>
<text x="365" y="425.6" font-size="9.8" font-weight="bold" text-anchor="start" textLength="69.6" lengthAdjust="spacingAndGlyphs">NKL(IL-4):K562</text>
<text transform="translate(278.3,363.9) rotate(-90)" x="0" y="0" font-size="9.2" font-weight="bold" text-anchor="start" textLength="71.8" lengthAdjust="spacingAndGlyphs">Cytotoxicity (%)</text>
<text x="264.3" y="244.8" font-size="25.8" font-weight="bold" text-anchor="start">D</text>
<line x1="28.6" y1="493.7" x2="28.6" y2="632.2" stroke="#000" stroke-width="1.8"/>
<line x1="27.7" y1="631.3" x2="235.3" y2="631.3" stroke="#000" stroke-width="1.8"/>
<line x1="26.4" y1="631.3" x2="28.6" y2="631.3" stroke="#000" stroke-width="1.4"/>
<text x="25" y="634.4" font-size="8.3" font-weight="normal" text-anchor="end">0</text>
<line x1="26.4" y1="597.1" x2="28.6" y2="597.1" stroke="#000" stroke-width="1.4"/>
<text x="25" y="600.2" font-size="8.3" font-weight="normal" text-anchor="end">5</text>
<line x1="26.4" y1="562.9" x2="28.6" y2="562.9" stroke="#000" stroke-width="1.4"/>
<text x="25" y="566" font-size="8.3" font-weight="normal" text-anchor="end">10</text>
<line x1="26.4" y1="528.7" x2="28.6" y2="528.7" stroke="#000" stroke-width="1.4"/>
<text x="25" y="531.8" font-size="8.3" font-weight="normal" text-anchor="end">15</text>
<line x1="26.4" y1="494.5" x2="28.6" y2="494.5" stroke="#000" stroke-width="1.4"/>
<text x="25" y="497.6" font-size="8.3" font-weight="normal" text-anchor="end">20</text>
<line x1="90.55" y1="631.3" x2="90.55" y2="633.5" stroke="#000" stroke-width="1.2"/>
<line x1="126.79" y1="631.3" x2="126.79" y2="633.5" stroke="#000" stroke-width="1.2"/>
<line x1="152.5" y1="631.3" x2="152.5" y2="633.5" stroke="#000" stroke-width="1.2"/>
<line x1="172.45" y1="631.3" x2="172.45" y2="633.5" stroke="#000" stroke-width="1.2"/>
<line x1="188.74" y1="631.3" x2="188.74" y2="633.5" stroke="#000" stroke-width="1.2"/>
<line x1="202.52" y1="631.3" x2="202.52" y2="633.5" stroke="#000" stroke-width="1.2"/>
<line x1="214.46" y1="631.3" x2="214.46" y2="633.5" stroke="#000" stroke-width="1.2"/>
<line x1="224.98" y1="631.3" x2="224.98" y2="633.5" stroke="#000" stroke-width="1.2"/>
<line x1="28.6" y1="631.3" x2="28.6" y2="634.1" stroke="#000" stroke-width="1.4"/>
<line x1="234.4" y1="631.3" x2="234.4" y2="634.1" stroke="#000" stroke-width="1.4"/>
<text x="29.1" y="640.9" font-size="7.5" font-weight="bold" text-anchor="middle">10</text>
<text x="234.4" y="640.9" font-size="7.5" font-weight="bold" text-anchor="middle">100</text>
<path d="M48.54,588.7 L53.71,587.43 L58.87,586.08 L64.03,584.65 L69.19,583.14 L74.36,581.53 L79.52,579.84 L84.68,578.04 L89.85,576.13 L95.01,574.11 L100.17,571.97 L105.33,569.7 L110.5,567.3 L115.66,564.75 L120.82,562.06 L125.98,559.2 L131.15,556.18 L136.31,552.97 L141.47,549.57 L146.63,545.97 L151.8,542.16 L156.96,538.12 L162.12,533.84 L167.29,529.3 L172.45,524.5" fill="none" stroke="#000" stroke-width="1.6"/>
<path d="M48.54,587 L53.71,585.76 L58.87,584.45 L64.03,583.06 L69.19,581.58 L74.36,580.02 L79.52,578.37 L84.68,576.62 L89.85,574.76 L95.01,572.8 L100.17,570.71 L105.33,568.51 L110.5,566.17 L115.66,563.69 L120.82,561.06 L125.98,558.28 L131.15,555.34 L136.31,552.22 L141.47,548.91 L146.63,545.4 L151.8,541.69 L156.96,537.76 L162.12,533.59 L167.29,529.18 L172.45,524.5" fill="none" stroke="#000" stroke-width="1.4" stroke-dasharray="2.5,1.6"/>
<path d="M48.54,609.8 L53.71,609.58 L58.87,609.34 L64.03,609.09 L69.19,608.82 L74.36,608.54 L79.52,608.24 L84.68,607.92 L89.85,607.59 L95.01,607.23 L100.17,606.86 L105.33,606.46 L110.5,606.03 L115.66,605.59 L120.82,605.11 L125.98,604.61 L131.15,604.08 L136.31,603.51 L141.47,602.91 L146.63,602.28 L151.8,601.61 L156.96,600.9 L162.12,600.14 L167.29,599.35 L172.45,598.5" fill="none" stroke="#000" stroke-width="1.4" stroke-dasharray="4,2"/>
<path d="M48.54,610.5 L53.71,610.33 L58.87,610.15 L64.03,609.96 L69.19,609.76 L74.36,609.55 L79.52,609.33 L84.68,609.09 L89.85,608.84 L95.01,608.57 L100.17,608.28 L105.33,607.98 L110.5,607.67 L115.66,607.33 L120.82,606.97 L125.98,606.59 L131.15,606.19 L136.31,605.77 L141.47,605.32 L146.63,604.84 L151.8,604.34 L156.96,603.8 L162.12,603.24 L167.29,602.64 L172.45,602" fill="none" stroke="#000" stroke-width="1.4" stroke-dasharray="3,2"/>
<line x1="48.54" y1="582.5" x2="48.54" y2="596" stroke="#000" stroke-width="1.3"/>
<line x1="45.54" y1="582.5" x2="51.54" y2="582.5" stroke="#000" stroke-width="1.3"/>
<line x1="45.54" y1="596" x2="51.54" y2="596" stroke="#000" stroke-width="1.3"/>
<rect x="46.34" y="585.8" width="4.4" height="4.4" fill="#fff" stroke="#000" stroke-width="1.1"/>
<line x1="110.5" y1="557.3" x2="110.5" y2="568" stroke="#000" stroke-width="1.3"/>
<line x1="107.5" y1="557.3" x2="113.5" y2="557.3" stroke="#000" stroke-width="1.3"/>
<line x1="107.5" y1="568" x2="113.5" y2="568" stroke="#000" stroke-width="1.3"/>
<rect x="108.3" y="559.8" width="4.4" height="4.4" fill="#fff" stroke="#000" stroke-width="1.1"/>
<line x1="172.45" y1="519.5" x2="172.45" y2="533" stroke="#000" stroke-width="1.3"/>
<line x1="169.45" y1="519.5" x2="175.45" y2="519.5" stroke="#000" stroke-width="1.3"/>
<line x1="169.45" y1="533" x2="175.45" y2="533" stroke="#000" stroke-width="1.3"/>
<rect x="170.25" y="520.3" width="4.4" height="4.4" fill="#fff" stroke="#000" stroke-width="1.1"/>
<line x1="48.54" y1="584" x2="48.54" y2="597.5" stroke="#000" stroke-width="1.3"/>
<line x1="45.54" y1="584" x2="51.54" y2="584" stroke="#000" stroke-width="1.3"/>
<line x1="45.54" y1="597.5" x2="51.54" y2="597.5" stroke="#000" stroke-width="1.3"/>
<rect x="46.14" y="586.9" width="4.8" height="4.8" fill="#000"/>
<line x1="110.5" y1="548" x2="110.5" y2="575.4" stroke="#000" stroke-width="1.3"/>
<line x1="107.5" y1="548" x2="113.5" y2="548" stroke="#000" stroke-width="1.3"/>
<line x1="107.5" y1="575.4" x2="113.5" y2="575.4" stroke="#000" stroke-width="1.3"/>
<rect x="108.1" y="560.9" width="4.8" height="4.8" fill="#000"/>
<line x1="172.45" y1="512" x2="172.45" y2="539" stroke="#000" stroke-width="1.3"/>
<line x1="169.45" y1="512" x2="175.45" y2="512" stroke="#000" stroke-width="1.3"/>
<line x1="169.45" y1="539" x2="175.45" y2="539" stroke="#000" stroke-width="1.3"/>
<rect x="170.05" y="521.1" width="4.8" height="4.8" fill="#000"/>
<line x1="48.54" y1="603.7" x2="48.54" y2="617.5" stroke="#000" stroke-width="1.3"/>
<line x1="45.54" y1="603.7" x2="51.54" y2="603.7" stroke="#000" stroke-width="1.3"/>
<line x1="45.54" y1="617.5" x2="51.54" y2="617.5" stroke="#000" stroke-width="1.3"/>
<polygon points="48.54,607.5 51.04,612.5 46.04,612.5" fill="#000"/>
<line x1="110.5" y1="598.7" x2="110.5" y2="607" stroke="#000" stroke-width="1.3"/>
<line x1="107.5" y1="598.7" x2="113.5" y2="598.7" stroke="#000" stroke-width="1.3"/>
<line x1="107.5" y1="607" x2="113.5" y2="607" stroke="#000" stroke-width="1.3"/>
<polygon points="110.5,601.3 113,606.3 108,606.3" fill="#000"/>
<line x1="172.45" y1="591.5" x2="172.45" y2="603.7" stroke="#000" stroke-width="1.3"/>
<line x1="169.45" y1="591.5" x2="175.45" y2="591.5" stroke="#000" stroke-width="1.3"/>
<line x1="169.45" y1="603.7" x2="175.45" y2="603.7" stroke="#000" stroke-width="1.3"/>
<polygon points="172.45,597.1 174.95,602.1 169.95,602.1" fill="#000"/>
<circle cx="48.54" cy="610" r="2.5" fill="#000"/>
<circle cx="110.5" cy="603.8" r="2.5" fill="#000"/>
<circle cx="172.45" cy="601" r="2.5" fill="#000"/>
<circle cx="41.85" cy="500.6" r="3" fill="#000"/>
<polygon points="41.85,507.7 44.95,510.8 41.85,513.9 38.75,510.8" fill="#000"/>
<rect x="38.95" y="519.55" width="5.3" height="5.3" fill="#fff" stroke="#000" stroke-width="1.3"/>
<polygon points="41.85,531.1 44.95,537.3 38.75,537.3" fill="#000"/>
<text x="51.5" y="504.9" font-size="10.6" font-weight="bold" text-anchor="start" textLength="15.5" lengthAdjust="spacingAndGlyphs">NS</text>
<text x="51.5" y="514.7" font-size="10.6" font-weight="bold" text-anchor="start" textLength="55" lengthAdjust="spacingAndGlyphs">ciglitazone</text>
<text x="51.5" y="525.6" font-size="10.6" font-weight="bold" text-anchor="start" textLength="76.6" lengthAdjust="spacingAndGlyphs">ciglitazone/IL-2</text>
<text x="51.5" y="537.1" font-size="10.6" font-weight="bold" text-anchor="start" textLength="19" lengthAdjust="spacingAndGlyphs">IL-2</text>
<text x="95" y="656.9" font-size="9.8" font-weight="bold" text-anchor="start" textLength="70.6" lengthAdjust="spacingAndGlyphs">NKL (IL-4):K562</text>
<text transform="translate(11.3,596) rotate(-90)" x="0" y="0" font-size="9.6" font-weight="normal" text-anchor="start" textLength="70.7" lengthAdjust="spacingAndGlyphs">Cytotoxicity (%)</text>
<text x="-1.2" y="466.3" font-size="25.8" font-weight="bold" text-anchor="start">E</text>
<line x1="303.3" y1="475.6" x2="303.3" y2="636.4" stroke="#000" stroke-width="1.9"/>
<line x1="302.4" y1="635.5" x2="509.6" y2="635.5" stroke="#000" stroke-width="1.9"/>
<line x1="300.3" y1="635.5" x2="303.3" y2="635.5" stroke="#000" stroke-width="1.5"/>
<text x="297.2" y="638.4" font-size="8.2" font-weight="bold" text-anchor="end">0</text>
<line x1="300.3" y1="612.77" x2="303.3" y2="612.77" stroke="#000" stroke-width="1.5"/>
<text x="297.2" y="615.67" font-size="8.2" font-weight="bold" text-anchor="end">10</text>
<line x1="300.3" y1="590.04" x2="303.3" y2="590.04" stroke="#000" stroke-width="1.5"/>
<text x="297.2" y="592.94" font-size="8.2" font-weight="bold" text-anchor="end">20</text>
<line x1="300.3" y1="567.31" x2="303.3" y2="567.31" stroke="#000" stroke-width="1.5"/>
<text x="297.2" y="570.21" font-size="8.2" font-weight="bold" text-anchor="end">30</text>
<line x1="300.3" y1="544.59" x2="303.3" y2="544.59" stroke="#000" stroke-width="1.5"/>
<text x="297.2" y="547.49" font-size="8.2" font-weight="bold" text-anchor="end">40</text>
<line x1="300.3" y1="521.86" x2="303.3" y2="521.86" stroke="#000" stroke-width="1.5"/>
<text x="297.2" y="524.76" font-size="8.2" font-weight="bold" text-anchor="end">50</text>
<line x1="300.3" y1="499.13" x2="303.3" y2="499.13" stroke="#000" stroke-width="1.5"/>
<text x="297.2" y="502.03" font-size="8.2" font-weight="bold" text-anchor="end">60</text>
<line x1="300.3" y1="476.4" x2="303.3" y2="476.4" stroke="#000" stroke-width="1.5"/>
<text x="297.2" y="479.3" font-size="8.2" font-weight="bold" text-anchor="end">70</text>
<path d="M316.4,635.5 L316.4,483.1 L341.8,483.1 L341.8,635.5" fill="none" stroke="#000" stroke-width="1.9"/>
<path d="M356,635.5 L356,555.5 L380.8,555.5 L380.8,635.5" fill="none" stroke="#000" stroke-width="1.9"/>
<path d="M395,635.5 L395,587.3 L419.4,587.3 L419.4,635.5" fill="none" stroke="#000" stroke-width="1.9"/>
<path d="M434.2,635.5 L434.2,500 L457.8,500 L457.8,635.5" fill="none" stroke="#000" stroke-width="1.9"/>
<path d="M471.9,635.5 L471.9,507.6 L495.8,507.6 L495.8,635.5" fill="none" stroke="#000" stroke-width="1.9"/>
<rect x="350.4" y="487.3" width="14.8" height="6" fill="#fff" stroke="#000" stroke-width="1.2"/>
<text x="366.5" y="494.7" font-size="12.3" font-weight="bold" text-anchor="start" textLength="66.6" lengthAdjust="spacingAndGlyphs">NK92:K562</text>
<text x="355.6" y="648.9" font-size="9.8" font-weight="bold" textLength="23.2" lengthAdjust="spacingAndGlyphs">2 <tspan font-family="Liberation Serif" font-weight="normal" font-size="10.5">µ</tspan>M</text>
<text x="395.4" y="648.9" font-size="9.8" font-weight="bold" textLength="22.5" lengthAdjust="spacingAndGlyphs">5 <tspan font-family="Liberation Serif" font-weight="normal" font-size="10.5">µ</tspan>M</text>
<text x="434.2" y="648.9" font-size="9.8" font-weight="bold" textLength="22.8" lengthAdjust="spacingAndGlyphs">2 <tspan font-family="Liberation Serif" font-weight="normal" font-size="10.5">µ</tspan>M</text>
<text x="473.3" y="648.9" font-size="9.8" font-weight="bold" textLength="22.5" lengthAdjust="spacingAndGlyphs">5 <tspan font-family="Liberation Serif" font-weight="normal" font-size="10.5">µ</tspan>M</text>
<line x1="355.6" y1="658.2" x2="418.9" y2="658.2" stroke="#000" stroke-width="1.3"/>
<line x1="432.8" y1="658.2" x2="495.8" y2="658.2" stroke="#000" stroke-width="1.3"/>
<text x="363.5" y="670.6" font-size="9.8" font-weight="bold" text-anchor="start" textLength="45" lengthAdjust="spacingAndGlyphs">15d-PGJ2</text>
<text x="440.4" y="670.6" font-size="9.8" font-weight="bold" text-anchor="start" textLength="50.9" lengthAdjust="spacingAndGlyphs">ciglitazone</text>
<line x1="355.6" y1="678.3" x2="497.5" y2="678.3" stroke="#000" stroke-width="2.2" stroke-dasharray="7,5"/>
<text x="382.2" y="692.1" font-size="9.9" font-weight="bold" text-anchor="start" textLength="87.6" lengthAdjust="spacingAndGlyphs">IL-2 (200 units/mL)</text>
<text transform="translate(277.7,625.9) rotate(-90)" x="0" y="0" font-size="9.9" font-weight="bold" text-anchor="start" textLength="139.6" lengthAdjust="spacingAndGlyphs">Formation of Conjugation (%)</text>
<text x="264.6" y="465.9" font-size="25.8" font-weight="bold" text-anchor="start">F</text>
</svg>
</body></html>
